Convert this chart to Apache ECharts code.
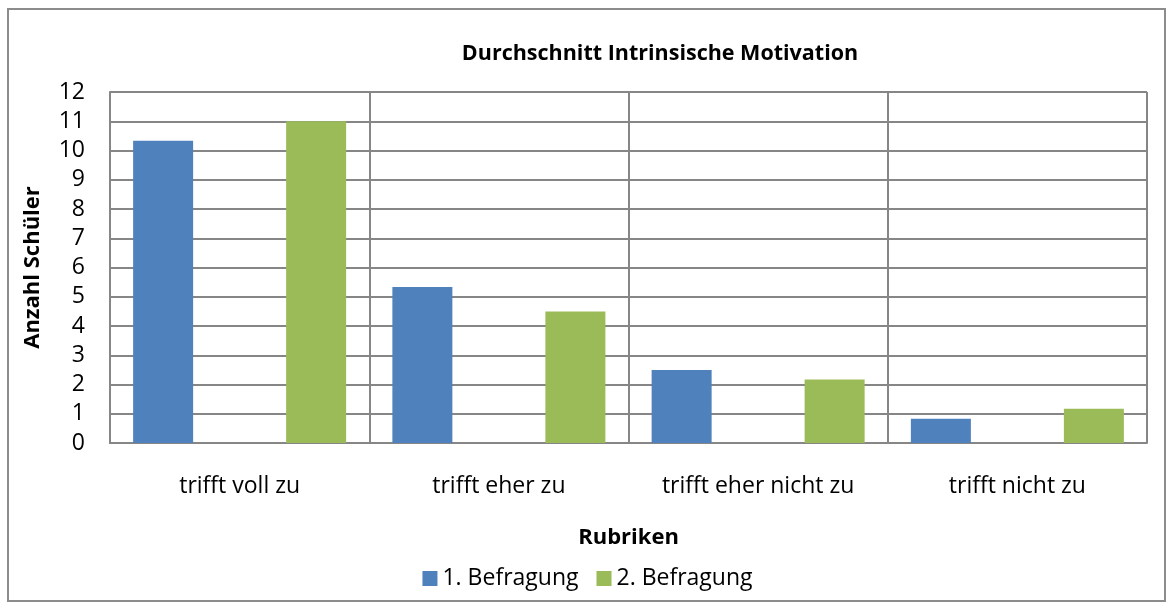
<!DOCTYPE html>
<html>
<head>
<meta charset="utf-8">
<script src="https://cdn.jsdelivr.net/npm/echarts@6/dist/echarts.min.js"></script>
<style>
  html, body { margin: 0; padding: 0; background: #fff; }
  #chart { width: 1175px; height: 610px; }
  .frame { position: absolute; left: 7px; top: 8px; width: 1159px; height: 594px; border: 2px solid #8c8c8c; box-sizing: border-box; pointer-events: none; }
</style>
</head>
<body>
<div id="chart"></div>
<div class="frame"></div>
<script>
// Rubriken (Kategorien)
const rubriken = ['trifft voll zu', 'trifft eher zu', 'trifft eher nicht zu', 'trifft nicht zu']
// Durchschnittswerte je Befragung
const befragung1 = [10.33, 5.33, 2.5, 0.83]
const befragung2 = [11, 4.5, 2.17, 1.17]
const serienNamen = ['1. Befragung', '2. Befragung']

const FONT = 'Open Sans'

let chart = echarts.init(document.getElementById('chart'))

let option = {
  animation: false,
  textStyle: { fontFamily: FONT, color: '#000' },
  title: {
    text: 'Durchschnitt Intrinsische Motivation',
    left: 655,
    top: 38,
    textAlign: 'center',
    textStyle: { fontFamily: FONT, fontSize: 21.5, fontWeight: 'bold', color: '#000' }
  },
  legend: {
    data: serienNamen,
    left: 'center',
    top: 562,
    itemWidth: 15,
    itemHeight: 15,
    itemGap: 18,
    icon: 'rect',
    textStyle: { fontFamily: FONT, fontSize: 23, color: '#000' }
  },
  grid: {
    left: 110,
    right: 28,
    top: 92,
    bottom: 167
  },
  xAxis: {
    type: 'category',
    data: rubriken,
    name: 'Rubriken',
    nameLocation: 'middle',
    nameGap: 84,
    nameTextStyle: { fontFamily: FONT, fontSize: 22, fontWeight: 'bold', color: '#000' },
    axisLine: { lineStyle: { color: '#868686', width: 2 } },
    axisTick: { show: false },
    axisLabel: { fontSize: 23, color: '#000', margin: 32 },
    splitLine: { show: true, lineStyle: { color: '#868686', width: 2 } }
  },
  yAxis: {
    type: 'value',
    min: 0,
    max: 12,
    interval: 1,
    name: 'Anzahl Schüler',
    nameLocation: 'middle',
    nameGap: 66,
    nameRotate: 90,
    nameTextStyle: { fontFamily: FONT, fontSize: 22, fontWeight: 'bold', color: '#000' },
    axisLine: { show: true, lineStyle: { color: '#868686', width: 2 } },
    axisTick: { show: false },
    axisLabel: { fontSize: 23, color: '#000', margin: 25 },
    splitLine: { show: true, lineStyle: { color: '#868686', width: 2 } }
  },
  series: [
    {
      name: serienNamen[0],
      type: 'bar',
      data: befragung1,
      barWidth: 60,
      barGap: '155%',
      itemStyle: { color: '#4f81bd' }
    },
    {
      name: serienNamen[1],
      type: 'bar',
      data: befragung2,
      barWidth: 60,
      itemStyle: { color: '#9bbb59' }
    }
  ]
}

chart.setOption(option)
</script>
</body>
</html>
